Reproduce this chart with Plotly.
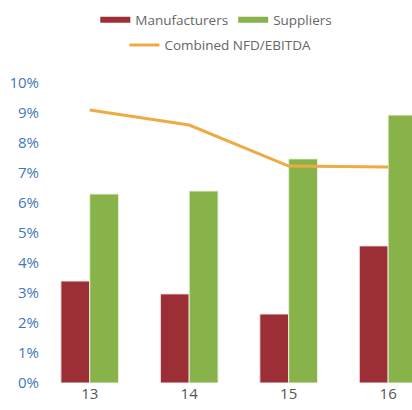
import plotly.graph_objects as go

years = ["13", "14", "15", "16"]
manufacturers = [3.4, 2.97, 2.3, 4.57]
suppliers = [6.3, 6.4, 7.47, 8.93]
combined = [9.1, 8.6, 7.23, 7.2]
y_ticks = list(range(0, 11))

RED = "#9b2f35"
GREEN = "#88b34a"
ORANGE = "#eeaa44"

fig = go.Figure()

fig.add_trace(go.Bar(x=years, y=manufacturers, name="Manufacturers", marker_color=RED,
                     marker_line=dict(color="#f2e6e6", width=1), showlegend=False))
fig.add_trace(go.Bar(x=years, y=suppliers, name="Suppliers", marker_color=GREEN,
                     marker_line=dict(color="#e6f0da", width=1), showlegend=False))
fig.add_trace(go.Scatter(x=years, y=combined, name="Combined NFD/EBITDA", mode="lines",
                         line=dict(color=ORANGE, width=3), showlegend=False))

# legend entries drawn as thick lines, like the original (two rows -> two legends)
for name, color, w, lg in [("Manufacturers", RED, 6, "legend"), ("Suppliers", GREEN, 6, "legend"),
                           ("Combined NFD/EBITDA", ORANGE, 3, "legend2")]:
    fig.add_trace(go.Scatter(x=[None], y=[None], name=name, mode="lines",
                             line=dict(color=color, width=w), legend=lg))

leg = dict(orientation="h", xref="container", yref="container", xanchor="center",
           yanchor="middle", font=dict(size=13.5, color="#666666"),
           bgcolor="rgba(0,0,0,0)")

fig.update_layout(
    width=412, height=410,
    margin=dict(l=40, r=0, t=83, b=27, autoexpand=False),
    plot_bgcolor="white", paper_bgcolor="white",
    barmode="group", bargap=0.42, bargroupgap=0,
    font=dict(family="Open Sans", color="#666666"),
    legend=dict(leg, x=0.525, y=0.951),
    legend2=dict(leg, x=0.535, y=0.89),
)
# last bar group runs off the right edge, as in the original
fig.update_xaxes(range=[-0.5, 3.24], showgrid=False, showline=False, ticks="",
                 tickfont=dict(size=15, color="#555555"))
fig.update_yaxes(range=[0, 10], tickvals=y_ticks, ticktext=[f"{v}%" for v in y_ticks],
                 showgrid=False, zeroline=False, showline=False, ticks="",
                 tickfont=dict(size=15, color="#3f77bc"))

fig.write_html("out.html", config={"displayModeBar": False},
               post_script="document.body.style.margin='0';")
